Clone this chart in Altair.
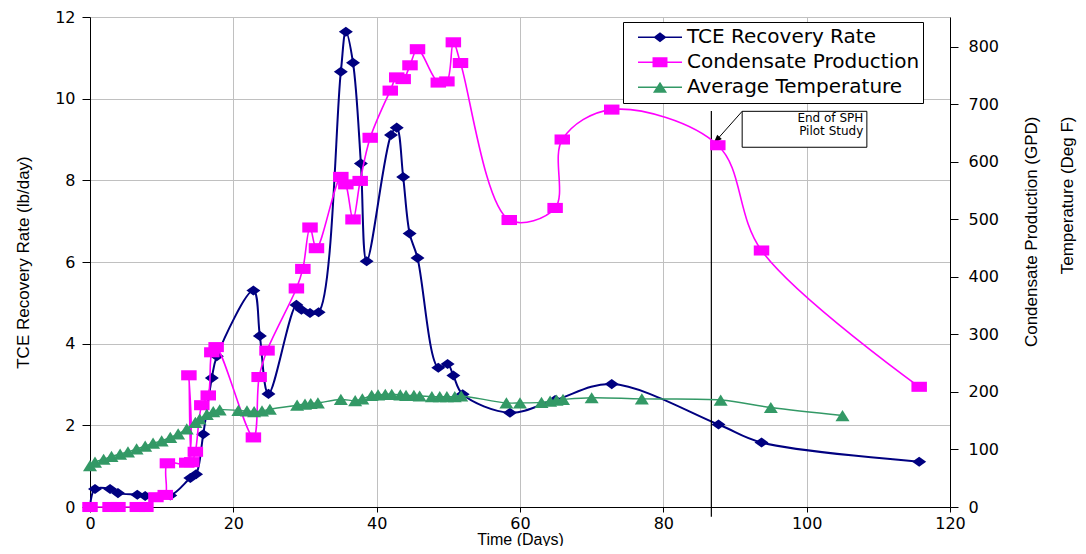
import altair as alt
import pandas as pd
import numpy as np

# ---- data ----
tce_days = [0, 0.7, 2.8, 3.9, 6.6, 7.7, 11.2, 14.0, 14.8, 15.8, 17.0, 17.7, 22.8, 23.7, 24.9,
            28.8, 29.5, 30.7, 31.9, 35.0, 35.7, 36.7, 37.8, 38.6, 42.0, 42.8, 43.7, 44.6, 45.7,
            48.6, 49.9, 50.7, 52.0, 58.6, 64.9, 72.8, 87.7, 93.7, 115.7]
tce_rate = [0, 0.44, 0.44, 0.34, 0.30, 0.27, 0.28, 0.71, 0.80, 1.78, 3.16, 3.69, 5.30, 4.19, 2.77,
            4.95, 4.83, 4.75, 4.77, 10.66, 11.64, 10.88, 8.41, 6.02, 9.11, 9.29, 8.08, 6.70, 6.10,
            3.41, 3.50, 3.22, 2.76, 2.31, 2.62, 3.01, 2.02, 1.58, 1.11]

cond_days = [0, 2.8, 3.9, 6.6, 7.8, 9.2, 10.5, 10.8, 13.5, 13.8, 14.2, 14.7, 15.6, 16.5, 17.0,
             17.6, 22.8, 23.6, 24.7, 28.8, 29.7, 30.7, 31.6, 35.0, 35.7, 36.7, 37.7, 39.1, 41.9,
             42.8, 43.7, 44.65, 45.7, 48.6, 49.8, 50.7, 51.7, 58.5, 64.9, 65.9, 72.8, 87.6, 93.7,
             115.7]
cond_gpd = [0, 0, 0, 0, 0, 17, 21, 76, 77, 229, 78, 96, 177, 194, 269,
            278, 121, 226, 272, 380, 414, 486, 450, 574, 561, 500, 567, 642, 724,
            747, 744, 768, 796, 738, 740, 808, 772, 499, 520, 639, 691, 629, 446,
            209]

temp_days = [0, 0.7, 1.9, 3.0, 4.2, 5.3, 6.5, 7.7, 8.8, 10.0, 11.2, 12.3, 13.5, 14.7, 15.3,
             16.3, 17.2, 18.1, 20.7, 21.9, 22.9, 24.0, 25.1, 28.9, 30.0, 30.8, 31.8, 35.0, 37.0,
             38.0, 39.3, 40.2, 41.2, 42.1, 43.3, 44.1, 45.2, 46.0, 47.7, 48.8, 49.8, 50.9, 51.8,
             58.1, 60.0, 63.0, 64.2, 65.1, 66.0, 70.0, 77.0, 88.0, 95.0, 105.0]
temp_degf = [72, 78, 83, 88, 92, 96, 101, 106, 111, 115, 121, 127, 136, 147, 153,
             161, 166, 169, 168, 167, 166, 167, 170, 177, 179, 180, 181, 187, 185,
             188, 194, 195, 196, 196, 195, 194, 194, 193, 192, 192, 192, 192, 193,
             181, 181, 182, 184, 186, 187, 190, 188, 186, 173, 159]

series_names = ["TCE Recovery Rate", "Condensate Production", "Average Temperature"]

# ---- styles ----
NAVY, MAGENTA, GREEN = "#000080", "#FF00FF", "#339966"
DIAMOND = "M-1,0L0,-0.72L1,0L0,0.72Z"
SQUARE = "M-1,-0.65H1V0.65H-1Z"
TRIANGLE = "M-1,0.8L0,-0.8L1,0.8Z"
BAR = "M-1,-0.034H1V0.034H-1Z "
LEG_SHAPES = [BAR + "M-0.3,0L0,-0.23L0.3,0L0,0.23Z",
              BAR + "M-0.34,-0.23H0.34V0.23H-0.34Z",
              BAR + "M-0.32,0.25L0,-0.25L0.32,0.25Z"]
ARROW = "M0,0L0.55,1.6L-0.55,1.6Z"

tce_df = pd.DataFrame({"day": tce_days, "val": tce_rate})
cond_df = pd.DataFrame({"day": cond_days, "val": cond_gpd})
temp_df = pd.DataFrame({"day": temp_days, "val": temp_degf})
legend_df = pd.DataFrame({"series": series_names, "day": [np.nan] * 3, "val": [np.nan] * 3})

x_enc = alt.X("day:Q", scale=alt.Scale(domain=[0, 120], nice=False, zero=False),
              axis=alt.Axis(values=list(range(0, 121, 20)), title="Time (Days)", grid=True,
                            tickSize=5, labelPadding=3, titlePadding=0, labelFlush=False,
                            titleFontSize=16))
yl_scale = alt.Scale(domain=[0, 12], nice=False)
yl_axis = alt.Axis(values=list(range(0, 13, 2)), title="TCE Recovery Rate (lb/day)", grid=True,
                   tickSize=8, labelPadding=7, titlePadding=22, labelFlush=False)
yl_enc = alt.Y("val:Q", scale=yl_scale, axis=yl_axis)
yr_scale = alt.Scale(domain=[0, 852], nice=False)
yr_axis = alt.Axis(orient="right", values=list(range(0, 801, 100)), grid=False,
                   title=["Condensate Production (GPD)", "Temperature (Deg F)"],
                   titleAngle=270, titleAlign="right", titleBaseline="top",
                   titleX=73, titleY=99, titleLineHeight=36,
                   tickSize=8, labelPadding=10, labelFlush=False)
yr_enc = alt.Y("val:Q", scale=yr_scale, axis=yr_axis)

# ---- left-axis layer ----
tce_line = alt.Chart(tce_df).mark_line(color=NAVY, strokeWidth=2, interpolate="catmull-rom").encode(x=x_enc, y=yl_enc)
tce_pts = alt.Chart(tce_df).mark_point(shape=DIAMOND, size=196, filled=True, color=NAVY, opacity=1).encode(x=x_enc, y=yl_enc)

end_rule = alt.Chart(pd.DataFrame({"day": [86.7], "val": [-0.24], "val2": [9.7]})).mark_rule(
    color="black", strokeWidth=1.2).encode(x=x_enc, y=yl_enc, y2="val2:Q")
box = alt.Chart(pd.DataFrame({"day": [91.0], "day2": [108.4], "val": [8.81], "val2": [9.69]})).mark_rect(
    fill="white", stroke="black", strokeWidth=1).encode(x=x_enc, x2="day2:Q", y=yl_enc, y2="val2:Q")
box_text = alt.Chart(pd.DataFrame({"day": [107.9, 107.9], "val": [9.52, 9.20],
                                   "label": ["End of SPH", "Pilot Study"]})).mark_text(
    align="right", baseline="middle", font="DejaVu Sans", fontSize=12, color="black").encode(
    x=x_enc, y=yl_enc, text="label:N")
arrow_line = alt.Chart(pd.DataFrame({"day": [91.0], "day2": [87.0], "val": [9.69], "val2": [8.9]})).mark_rule(
    color="black", strokeWidth=1).encode(x=x_enc, x2="day2:Q", y=yl_enc, y2="val2:Q")
arrow_head = alt.Chart(pd.DataFrame({"day": [87.0], "val": [8.9]})).mark_point(
    shape=ARROW, size=126, angle=222, filled=True, color="black", opacity=1).encode(x=x_enc, y=yl_enc)

left = alt.layer(tce_line, tce_pts, end_rule, box, box_text, arrow_line, arrow_head)

# ---- right-axis layer ----
cond_line = alt.Chart(cond_df).mark_line(color=MAGENTA, strokeWidth=1.6, interpolate="catmull-rom").encode(x=x_enc, y=yr_enc)
cond_pts = alt.Chart(cond_df).mark_point(shape=SQUARE, size=240, filled=True, color=MAGENTA, opacity=1).encode(x=x_enc, y=yr_enc)
temp_line = alt.Chart(temp_df).mark_line(color=GREEN, strokeWidth=1.4, interpolate="catmull-rom").encode(x=x_enc, y=yr_enc)
temp_pts = alt.Chart(temp_df).mark_point(shape=TRIANGLE, size=196, filled=True, color=GREEN, opacity=1).encode(x=x_enc, y=yr_enc)

leg = alt.Legend(orient="none", legendX=533, legendY=5, title=None, padding=3,
                 strokeColor="black", fillColor="white", cornerRadius=0,
                 labelFont="DejaVu Sans", labelFontSize=20, labelColor="black",
                 labelOffset=5, symbolOffset=12, clipHeight=24.5, rowPadding=0,
                 symbolSize=1936, symbolStrokeWidth=0, labelLimit=400)
legend_layer = alt.Chart(legend_df).mark_point(filled=True, size=1936, opacity=1).encode(
    x=x_enc, y=yr_enc,
    fill=alt.Fill("series:N", scale=alt.Scale(domain=series_names, range=[NAVY, MAGENTA, GREEN]), legend=leg),
    shape=alt.Shape("series:N", scale=alt.Scale(domain=series_names, range=LEG_SHAPES), legend=leg),
)

right = alt.layer(cond_line, cond_pts, temp_line, temp_pts, legend_layer)

chart = alt.layer(left, right).resolve_scale(y="independent").properties(
    width=860, height=490,
    autosize=alt.AutoSizeParams(type="none"),
    padding={"left": 82, "top": 9, "right": 128, "bottom": 39},
).configure_view(strokeWidth=0).configure_axis(
    labelFont="DejaVu Sans", labelFontSize=16, labelColor="black",
    domainColor="black", tickColor="black", gridColor="#c0c0c0",
    titleFont="Liberation Sans", titleFontSize=17, titleFontWeight="normal", titleColor="black",
)

chart.save("out.html", embed_options={"renderer": "svg", "actions": False})
